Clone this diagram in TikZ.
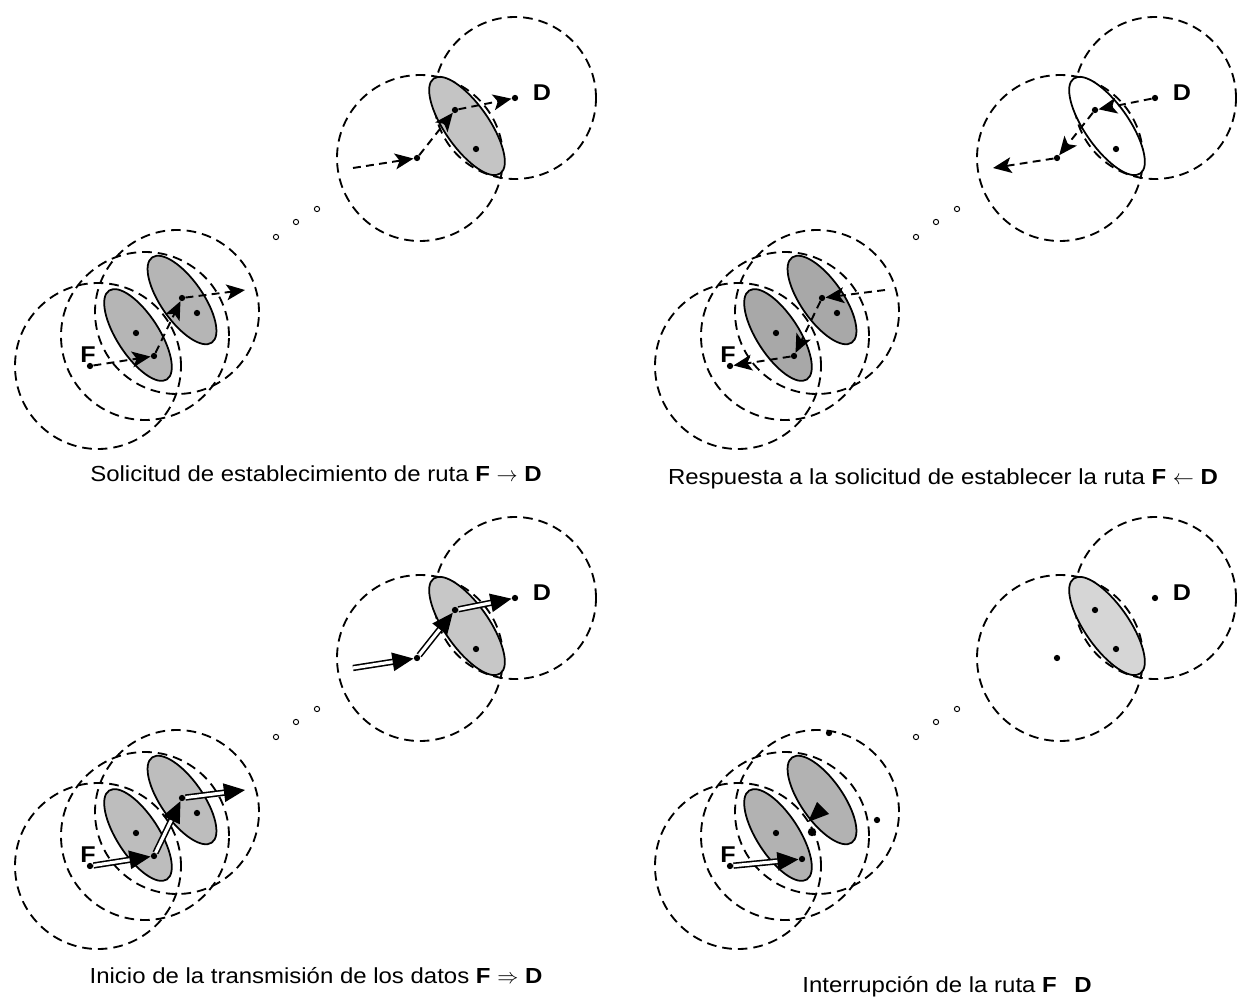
\documentclass[tikz,border=0pt]{standalone}
\usepackage{fontspec}
\setmainfont{Liberation Sans}[FakeStretch=1.1]
\usetikzlibrary{shapes.geometric,arrows.meta}

\tikzset{
  radio/.style={circle, draw, dash pattern=on 5.5pt off 3.4pt, line width=1.05pt, inner sep=0pt},
  zona/.style={ellipse, draw, line width=1pt, inner sep=0pt},
  host/.style={circle, fill=black, inner sep=0pt, minimum size=3.6pt},
  hueco/.style={circle, draw, line width=0.55pt, inner sep=0pt, minimum size=3pt},
  aviso/.style={dash pattern=on 4.5pt off 3pt, line width=1.1pt,
                -{Stealth[length=10.5pt,width=9pt,inset=2.5pt]}},
  datos/.style={double=white, double distance=1.8pt, line width=0.9pt,
                -{Triangle[length=12pt,width=10.5pt]}},
  letra/.style={font=\bfseries\fontsize{13}{14}\selectfont, inner sep=0pt},
  pie/.style={font=\fontsize{12.4}{14}\selectfont, inner sep=0pt, anchor=base},
}

% common layout of one panel: coverage circles, node groups, gap marks, labels
% #1 name prefix, #2 fill of the lower groups, #3 fill of the upper group
\newcommand\redlayout[3]{%
  \node[radio, minimum size=166*0.02cm] (#1rF) at (98,366) {};
  \node[radio, minimum size=168*0.02cm] (#1rA) at (145,336) {};
  \node[radio, minimum size=164*0.02cm] (#1rB) at (177,312) {};
  \node[radio, minimum size=166*0.02cm] (#1rP) at (420,158) {};
  \node[radio, minimum size=162*0.02cm] (#1rD) at (515,98) {};
  \node[zona, fill=#2, minimum width=106*0.02cm, minimum height=42*0.02cm, rotate=123] (#1e1) at (138,335) {};
  \node[zona, fill=#2, minimum width=104*0.02cm, minimum height=42*0.02cm, rotate=125] (#1e2) at (182,300) {};
  \node[zona, fill=#3, minimum width=116*0.02cm, minimum height=44*0.02cm, rotate=125] (#1e3) at (467,126) {};
  \node[hueco] (#1g1) at (276,237) {};
  \node[hueco] (#1g2) at (296,222) {};
  \node[hueco] (#1g3) at (317,209) {};
  \node[letra] (#1lF) at (88,355) {F};
  \node[letra] (#1lD) at (542,93) {D};
  \coordinate (#1out) at (245,290);
  \coordinate (#1in) at (353,168);
}

\begin{document}
\begin{tikzpicture}[x=0.02cm, y=-0.02cm]
\useasboundingbox (0,0) rectangle (1237,1000);

% route request F -> D
\begin{scope}
  \redlayout{a}{gray!58}{gray!46}
  \foreach \n/\x/\y in {F/90/366, a/136/333, b/154/356, c/197/313, d/182/298,
                        p/417/158, q/455/110, s/476/149, D/515/98}
    \node[host] (a\n) at (\x,\y) {};
  \draw[aviso] (aF) -- (ab);
  \draw[aviso] (ab) -- (ad);
  \draw[aviso] (ad) -- (aout);
  \draw[aviso] (ain) -- (ap);
  \draw[aviso] (ap) -- (aq);
  \draw[aviso] (aq) -- (aD);
\end{scope}

% route reply F <- D
\begin{scope}[shift={(640,0)}]
  \redlayout{b}{gray!68}{white}
  \foreach \n/\x/\y in {F/90/366, a/136/333, b/154/356, c/197/313, d/182/298,
                        p/417/158, q/455/110, s/476/149, D/515/98}
    \node[host] (b\n) at (\x,\y) {};
  \draw[aviso] (bD) -- (bq);
  \draw[aviso] (bq) -- (bp);
  \draw[aviso] (bp) -- (bin);
  \draw[aviso] (bout) -- (bd);
  \draw[aviso] (bd) -- (bb);
  \draw[aviso] (bb) -- (bF);
\end{scope}

% data transfer F => D
\begin{scope}[shift={(0,500)}]
  \redlayout{c}{gray!52}{gray!44}
  \foreach \n/\x/\y in {F/90/366, a/136/333, b/154/356, c/197/313, d/182/298,
                        p/417/158, q/455/110, s/476/149, D/515/98}
    \node[host] (c\n) at (\x,\y) {};
  \draw[datos] (cF) -- (cb);
  \draw[datos] (cb) -- (cd);
  \draw[datos] (cd) -- (cout);
  \draw[datos] (cin) -- (cp);
  \draw[datos] (cp) -- (cq);
  \draw[datos] (cq) -- (cD);
\end{scope}

% broken route
\begin{scope}[shift={(640,500)}]
  \redlayout{d}{gray!60}{gray!32}
  \foreach \n/\x/\y in {F/90/366, a/136/333, b/162/359, m/189/233, n/237/320,
                        p/417/158, q/455/110, s/476/149, D/515/98}
    \node[host] (d\n) at (\x,\y) {};
  \node[host, minimum size=4.8pt] (dk) at (172,332) {};
  \draw[datos] (dF) -- (db);
  \fill (168,322) -- (177,302) -- (189,314) -- cycle;
\end{scope}

% captions
\node[pie] (cap1) at (316,481) {Solicitud de establecimiento de ruta \textbf{F} $\rightarrow$ \textbf{D}};
\node[pie] (cap2) at (943,484) {Respuesta a la solicitud de establecer la ruta \textbf{F} $\leftarrow$ \textbf{D}};
\node[pie] (cap3) at (316,983) {Inicio de la transmisión de los datos \textbf{F} $\Rightarrow$ \textbf{D}};
\node[pie] (cap4) at (947,992) {Interrupción de la ruta \textbf{F}\hspace{0.8em}\textbf{D}};
\end{tikzpicture}
\end{document}
